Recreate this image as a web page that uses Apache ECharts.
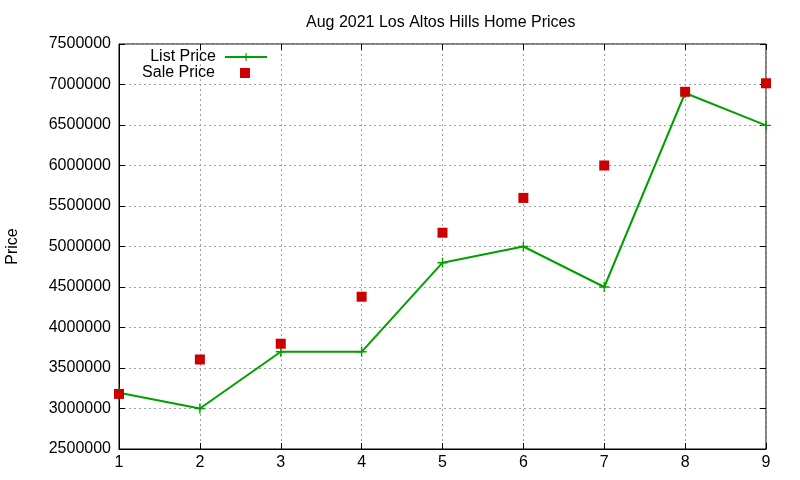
<!DOCTYPE html>
<html>
<head>
<meta charset="utf-8">
<script src="https://cdn.jsdelivr.net/npm/echarts@6/dist/echarts.min.js"></script>
<style>
	html, body { margin: 0; padding: 0; background: #fff; }
	#chart { width: 800px; height: 480px; }
</style>
</head>
<body>
<div id="chart"></div>
<script>
// 数据
var houses = [1, 2, 3, 4, 5, 6, 7, 8, 9];
var listPrice = [3195000, 3000000, 3700000, 3700000, 4800000, 5000000, 4500000, 6895000, 6495000];
var salePrice = [3180000, 3605000, 3800000, 4380000, 5170000, 5600000, 6000000, 6910000, 7015000];
var yTicks = { min: 2500000, max: 7500000, step: 500000 };

var font = 'Liberation Sans, Arial, sans-serif';
var plus = 'path://M4.3,0H5.7V4.3H10V5.7H5.7V10H4.3V5.7H0V4.3H4.3Z';

function pairs(xs, ys) {
	return xs.map(function(x, i) { return [x, ys[i]]; });
}

var charts = echarts.init(document.getElementById('chart'));

var gridLine = { show: true, lineStyle: { color: '#a0a0a0', type: [2, 3], width: 1 } };
var tick = { show: true, inside: true, length: 6, lineStyle: { color: '#000' } };

var option = {
	animation: false,
	backgroundColor: '#fff',
	title: {
		text: 'Aug 2021 Los Altos Hills Home Prices',
		left: 301,
		top: 10,
		textStyle: { fontFamily: font, fontSize: 16, fontWeight: 'normal', color: '#000' }
	},
	legend: [{
		data: ['List Price'],
		right: 527,
		top: 44,
		align: 'right',
		itemWidth: 42,
		itemHeight: 10,
		textStyle: { fontFamily: font, fontSize: 16, color: '#000', padding: [0, 4, 0, 0] }
	}, {
		data: ['Sale Price'],
		right: 545,
		top: 60,
		align: 'right',
		itemWidth: 10,
		itemHeight: 10,
		textStyle: { fontFamily: font, fontSize: 16, color: '#000', padding: [0, 20, 0, 0] }
	}],
	grid: {
		left: 119,
		right: 34,
		top: 44,
		bottom: 31,
		containLabel: false,
		outerBoundsMode: 'none',
		show: true,
		borderColor: '#000',
		borderWidth: 1
	},
	xAxis: [{
		type: 'value',
		min: 1,
		max: 9,
		interval: 1,
		axisLine: { show: true, lineStyle: { color: '#000' } },
		axisTick: tick,
		axisLabel: { fontFamily: font, fontSize: 16, color: '#000', margin: 6 },
		splitLine: gridLine
	}, {
		type: 'value',
		position: 'top',
		min: 1,
		max: 9,
		interval: 1,
		axisLine: { show: false },
		axisTick: tick,
		axisLabel: { show: false },
		splitLine: { show: false }
	}],
	yAxis: [{
		type: 'value',
		name: 'Price',
		nameLocation: 'middle',
		nameGap: 98,
		nameTextStyle: { fontFamily: font, fontSize: 16, color: '#000' },
		min: yTicks.min,
		max: yTicks.max,
		interval: yTicks.step,
		axisLine: { show: true, lineStyle: { color: '#000' } },
		axisTick: tick,
		axisLabel: {
			fontFamily: font, fontSize: 16, color: '#000', margin: 8,
			formatter: function(v) { return String(v); }
		},
		splitLine: gridLine
	}, {
		type: 'value',
		position: 'right',
		min: yTicks.min,
		max: yTicks.max,
		interval: yTicks.step,
		axisLine: { show: false },
		axisTick: tick,
		axisLabel: { show: false },
		splitLine: { show: false }
	}],
	series: [{
		name: 'List Price',
		type: 'line',
		data: pairs(houses, listPrice),
		symbol: plus,
		symbolSize: 10,
		itemStyle: { color: '#00a000' },
		lineStyle: { color: '#00a000', width: 2 },
		z: 3
	}, {
		name: 'Sale Price',
		type: 'scatter',
		data: pairs(houses, salePrice),
		symbol: 'rect',
		symbolSize: 10,
		itemStyle: { color: '#cc0000', opacity: 1 },
		z: 4
	}]
};

charts.setOption(option);
</script>
</body>
</html>
